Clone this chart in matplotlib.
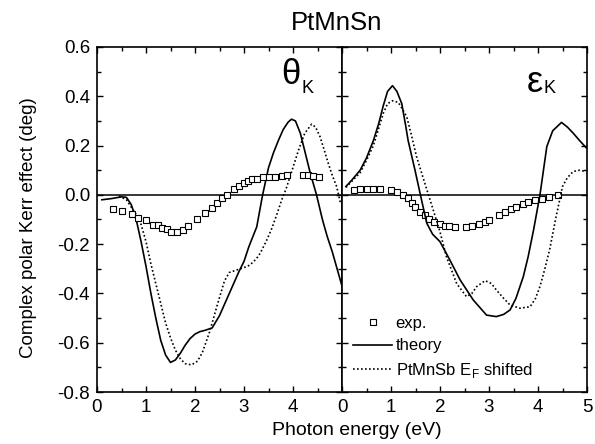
import numpy as np
import matplotlib.pyplot as plt
from matplotlib.ticker import MultipleLocator

plt.rcParams['font.family'] = ['Liberation Sans', 'DejaVu Sans']

# theta_K : theory
th_x = [0.1, 0.3, 0.5, 0.6, 0.7, 0.8, 0.9, 1.0, 1.1, 1.2, 1.3, 1.4, 1.5, 1.6, 1.7,
        1.8, 1.9, 2.0, 2.1, 2.2, 2.35, 2.5, 2.7, 2.9, 3.0, 3.1, 3.26, 3.38, 3.5, 3.6,
        3.7, 3.8, 3.9, 3.97, 4.05, 4.15, 4.25, 4.35, 4.48, 4.6, 4.7, 4.8, 4.9, 5.0]
th_y = [-0.02, -0.015, -0.008, -0.01, -0.04, -0.10, -0.19, -0.29, -0.40, -0.50, -0.59,
        -0.65, -0.68, -0.67, -0.643, -0.61, -0.583, -0.565, -0.555, -0.55, -0.54, -0.49,
        -0.40, -0.31, -0.27, -0.21, -0.13, 0.0, 0.11, 0.17, 0.22, 0.265, 0.295, 0.307,
        0.30, 0.25, 0.17, 0.09, 0.0, -0.10, -0.17, -0.23, -0.30, -0.37]

# theta_K : PtMnSb, E_F shifted
ts_x = [0.45, 0.6, 0.7, 0.8, 0.9, 1.0, 1.1, 1.2, 1.3, 1.4, 1.5, 1.6, 1.7, 1.8, 1.93,
        2.05, 2.15, 2.3, 2.45, 2.6, 2.7, 2.85, 3.0, 3.12, 3.25, 3.33, 3.45, 3.56, 3.67,
        3.77, 3.86, 3.94, 4.03, 4.11, 4.24, 4.38, 4.46, 4.55, 4.64, 4.72, 4.8, 4.89, 4.97]
ts_y = [-0.005, -0.02, -0.05, -0.08, -0.12, -0.19, -0.28, -0.36, -0.44, -0.52, -0.58,
        -0.63, -0.665, -0.685, -0.69, -0.675, -0.64, -0.555, -0.45, -0.35, -0.315, -0.305,
        -0.295, -0.285, -0.26, -0.237, -0.19, -0.14, -0.08, -0.02, 0.025, 0.074, 0.13,
        0.18, 0.25, 0.287, 0.275, 0.237, 0.18, 0.128, 0.08, 0.034, -0.034]

# theta_K : experiment
te_x = [0.32, 0.52, 0.71, 0.84, 1.01, 1.15, 1.25, 1.32, 1.42, 1.52, 1.63, 1.75, 1.86,
        2.05, 2.2, 2.34, 2.44, 2.56, 2.66, 2.8, 2.9, 2.99, 3.08, 3.16, 3.26, 3.38, 3.5,
        3.63, 3.77, 3.88, 4.21, 4.31, 4.41, 4.54]
te_y = [-0.058, -0.065, -0.079, -0.095, -0.104, -0.122, -0.122, -0.135, -0.14, -0.152,
        -0.15, -0.142, -0.126, -0.099, -0.075, -0.054, -0.034, -0.014, 0.0, 0.023, 0.036,
        0.047, 0.056, 0.064, 0.066, 0.074, 0.074, 0.074, 0.076, 0.080, 0.081, 0.081,
        0.078, 0.074]

# eps_K : theory
et_x = [0.08, 0.2, 0.37, 0.5, 0.64, 0.75, 0.84, 0.93, 1.03, 1.12, 1.22, 1.3, 1.35, 1.42,
        1.49, 1.6, 1.73, 1.85, 2.0, 2.2, 2.41, 2.68, 2.95, 3.15, 3.3, 3.43, 3.55, 3.7,
        3.8, 3.91, 4.04, 4.18, 4.3, 4.48, 4.6, 4.72, 4.85, 4.99]
et_y = [0.034, 0.06, 0.10, 0.15, 0.22, 0.29, 0.36, 0.42, 0.443, 0.42, 0.37, 0.28, 0.22,
        0.16, 0.10, 0.0, -0.115, -0.16, -0.19, -0.264, -0.345, -0.427, -0.488, -0.494,
        -0.485, -0.467, -0.42, -0.332, -0.25, -0.142, 0.0, 0.196, 0.26, 0.294, 0.275,
        0.25, 0.22, 0.19]

# eps_K : PtMnSb, E_F shifted
es_x = [0.08, 0.2, 0.37, 0.5, 0.64, 0.75, 0.84, 0.93, 1.03, 1.15, 1.32, 1.42, 1.52,
        1.69, 1.86, 2.0, 2.13, 2.34, 2.54, 2.65, 2.75, 2.92, 3.05, 3.15, 3.3, 3.43, 3.63,
        3.84, 3.95, 4.04, 4.14, 4.24, 4.37, 4.5, 4.6, 4.72, 4.85, 4.96]
es_y = [0.03, 0.055, 0.09, 0.14, 0.20, 0.27, 0.33, 0.37, 0.382, 0.375, 0.318, 0.24,
        0.156, 0.047, -0.06, -0.15, -0.25, -0.36, -0.413, -0.40, -0.372, -0.348, -0.36,
        -0.386, -0.42, -0.447, -0.46, -0.454, -0.42, -0.372, -0.30, -0.22, -0.088, 0.034,
        0.07, 0.095, 0.10, 0.095]

# eps_K : experiment
ee_x = [0.24, 0.37, 0.5, 0.64, 0.78, 1.01, 1.12, 1.24, 1.35, 1.42, 1.48, 1.59, 1.69,
        1.78, 1.88, 2.0, 2.1, 2.19, 2.31, 2.54, 2.66, 2.8, 2.91, 2.99, 3.21, 3.33, 3.44,
        3.56, 3.69, 3.8, 3.94, 4.08, 4.23, 4.41]
ee_y = [0.02, 0.024, 0.023, 0.023, 0.023, 0.018, 0.01, 0.0, -0.014, -0.034, -0.048,
        -0.068, -0.08, -0.098, -0.112, -0.12, -0.125, -0.128, -0.13, -0.13, -0.127,
        -0.118, -0.11, -0.104, -0.081, -0.068, -0.059, -0.048, -0.037, -0.028, -0.022,
        -0.015, -0.007, 0.0]

yticks = [-0.8, -0.6, -0.4, -0.2, 0.0, 0.2, 0.4, 0.6]

dotted = (0, (1, 1.4))
sq = dict(ls='none', marker='s', ms=4.2, mfc='white', mec='k', mew=0.8)

fig = plt.figure(figsize=(5.95, 4.44), dpi=100)
ax1 = fig.add_axes([97 / 595, 52 / 444, 245 / 595, 345 / 444])
ax2 = fig.add_axes([342 / 595, 52 / 444, 245 / 595, 345 / 444])

for ax in (ax1, ax2):
    ax.axhline(0, color='k', lw=1.1)
    ax.set_xlim(0, 5)
    ax.set_ylim(-0.8, 0.6)
    ax.xaxis.set_major_locator(MultipleLocator(1))
    ax.xaxis.set_minor_locator(MultipleLocator(0.5))
    ax.set_yticks(yticks)
    ax.yaxis.set_minor_locator(MultipleLocator(0.1))
    ax.tick_params(which='both', direction='in', top=True, right=True,
                   width=1.0, labelsize=13.5, pad=5)
    ax.tick_params(which='major', length=4.5)
    ax.tick_params(which='minor', length=3)
    for s in ax.spines.values():
        s.set_linewidth(1.2)

ax1.plot(th_x, th_y, color='k', lw=1.2)
ax1.plot(ts_x, ts_y, color='k', lw=1.2, ls=dotted)
ax1.plot(te_x, te_y, **sq)
ax1.set_xticks([0, 1, 2, 3, 4])
ax1.set_yticklabels(['%.1f' % v for v in yticks])
ax1.set_ylabel('Complex polar Kerr effect (deg)', fontsize=13.5)
ax1.yaxis.set_label_coords(-0.245, 0.475)
ax1.text(3.77, 0.49, 'θ', fontsize=25, ha='left', va='center')
ax1.text(4.17, 0.433, 'K', fontsize=13, ha='left', va='center')

ax2.plot(ee_x, ee_y, label='exp.', **sq)
ax2.plot(et_x, et_y, color='k', lw=1.2, label='theory')
ax2.plot(es_x, es_y, color='k', lw=1.2, ls=dotted,
         label=r'PtMnSb E$_\mathregular{F}$ shifted')
ax2.set_yticklabels([])
ax2.text(3.77, 0.455, 'ε', fontsize=26, ha='left', va='center')
ax2.text(4.12, 0.433, 'K', fontsize=13, ha='left', va='center')
ax2.legend(loc='lower left', frameon=False, fontsize=12, handlelength=2.35,
           handletextpad=0.2, labelspacing=0.45, borderpad=0, borderaxespad=0,
           bbox_to_anchor=(0.045, 0.035))

fig.text(337 / 595, 1 - 23 / 444, 'PtMnSn', ha='center', va='center', fontsize=18.5)
fig.text(357 / 595, 1 - 430 / 444, 'Photon energy (eV)', ha='center', va='center',
         fontsize=14)

fig.savefig('out.png', dpi=100)
